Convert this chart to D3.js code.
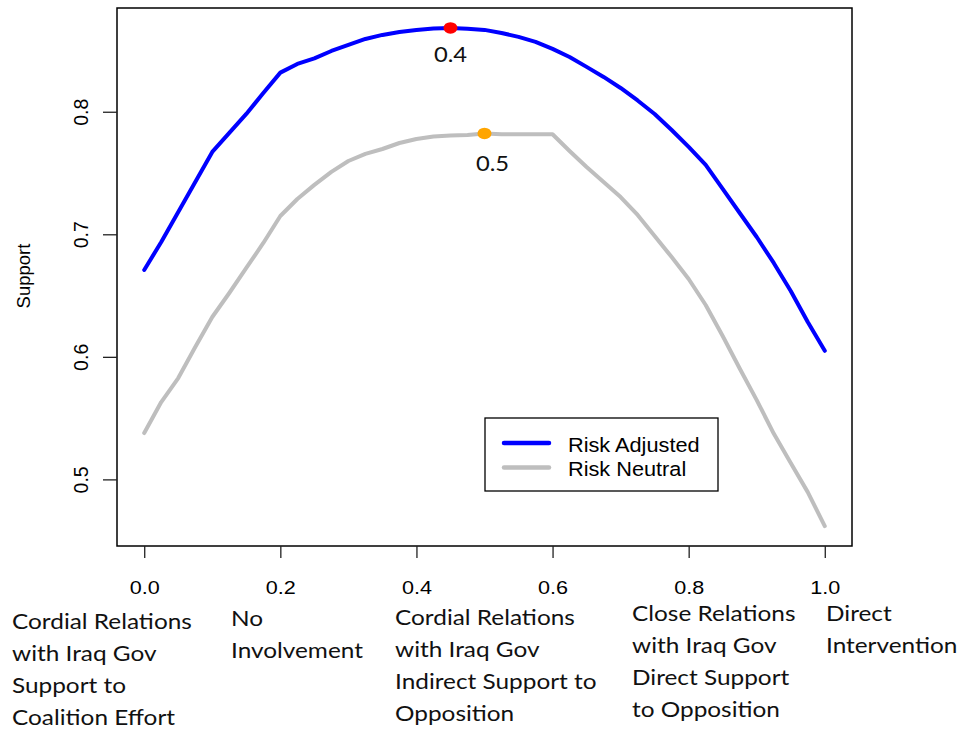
<!DOCTYPE html>
<html><head><meta charset="utf-8">
<script src="https://cdn.jsdelivr.net/npm/d3@7"></script>
<style>body{margin:0;background:#fff}</style></head>
<body>
<svg id="c" width="965" height="730"></svg>
<script>
// ---------------- DATA ----------------
const xValues = [0,0.025,0.05,0.075,0.1,0.125,0.15,0.175,0.2,0.225,0.25,0.275,0.3,0.325,0.35,0.375,0.4,0.425,0.45,0.475,0.5,
  0.525,0.55,0.575,0.6,0.625,0.65,0.675,0.7,0.725,0.75,0.775,0.8,0.825,0.85,0.875,0.9,0.925,0.95,0.975,1.0];
const riskAdjusted = [0.6709,0.6937,0.7182,0.7427,0.7672,0.7827,0.7982,0.8153,0.8319,0.8390,0.8435,0.8496,0.8545,0.8594,0.8627,0.8651,0.8667,0.8680,0.8684,0.8678,0.8668,
  0.8643,0.8611,0.8570,0.8513,0.8447,0.8366,0.8284,0.8194,0.8092,0.7982,0.7851,0.7713,0.7566,0.7370,0.7174,0.6978,0.6766,0.6537,0.6284,0.6049];
const riskNeutral = [0.5378,0.5631,0.5827,0.6080,0.6325,0.6521,0.6725,0.6929,0.7149,0.7288,0.7403,0.7509,0.7598,0.7656,0.7696,0.7745,0.7778,0.7798,0.7807,0.7811,0.7823,
  0.7816,0.7816,0.7816,0.7816,0.7680,0.7549,0.7427,0.7304,0.7158,0.6986,0.6814,0.6635,0.6423,0.6170,0.5905,0.5647,0.5374,0.5133,0.4896,0.4619];
const seriesNames = ["Risk Adjusted", "Risk Neutral"];
const seriesColors = ["#0000FF", "#BEBEBE"];
const optimaX = [0.45, 0.5];
const optimaY = [0.8684, 0.7823];
const optimaLabels = ["0.4", "0.5"];
const optimaColors = ["#FF0000", "#FFA500"];
const yTicks = [0.5, 0.6, 0.7, 0.8];
const xTicks = [0, 0.2, 0.4, 0.6, 0.8, 1.0];
const xTickLabels = ["0.0", "0.2", "0.4", "0.6", "0.8", "1.0"];
const yLabel = "Support";
const strategyLabels = [
  ["Cordial Relations", "with Iraq Gov", "Support to", "Coalition Effort"],
  ["No", "Involvement"],
  ["Cordial Relations", "with Iraq Gov", "Indirect Support to", "Opposition"],
  ["Close Relations", "with Iraq Gov", "Direct Support", "to Opposition"],
  ["Direct", "Intervention"]
];

// ---------------- LAYOUT ----------------
const svg = d3.select("#c");
const L = 117, R = 852, T = 8, B = 546;
const allY = riskAdjusted.concat(riskNeutral);
const yMin = d3.min(allY), yMax = d3.max(allY), yPad = (yMax - yMin) * 0.04;
const x = d3.scaleLinear().domain([-0.04, 1.04]).range([L, R]);
const y = d3.scaleLinear().domain([yMin - yPad, yMax + yPad]).range([B, T]);

const sans = "'Liberation Sans', Arial, Helvetica, sans-serif";
const humanist = "Lato, 'Open Sans', sans-serif";

// lines
const line = d3.line().x((d) => x(d[0])).y((d) => y(d[1]));
[1, 0].forEach((idx) => {
  const s = idx === 0 ? riskAdjusted : riskNeutral;
  svg.append("path")
    .datum(xValues.map((v, i) => [v, s[i]]))
    .attr("d", line)
    .attr("fill", "none")
    .attr("stroke", seriesColors[idx])
    .attr("stroke-width", 4)
    .attr("stroke-linejoin", "round")
    .attr("stroke-linecap", "round");
});

// optimum markers
optimaX.forEach((ox, i) => {
  svg.append("ellipse")
    .attr("cx", x(ox)).attr("cy", y(optimaY[i]))
    .attr("rx", 7).attr("ry", 5.8)
    .attr("fill", optimaColors[i]);
});
const annOffsets = [[0, 34.5], [8, 38]];
optimaX.forEach((ox, i) => {
  svg.append("text")
    .attr("transform", `translate(${x(ox) + annOffsets[i][0]},${y(optimaY[i]) + annOffsets[i][1]}) scale(1.08,1)`)
    .attr("text-anchor", "middle")
    .attr("font-family", humanist)
    .attr("font-size", 22)
    .attr("fill", "#111")
    .text(optimaLabels[i]);
});

// frame
svg.append("rect")
  .attr("x", L).attr("y", T).attr("width", R - L).attr("height", B - T)
  .attr("fill", "none").attr("stroke", "#000").attr("stroke-width", 1.5);

// y axis
const yAxis = svg.append("g").attr("transform", `translate(${L},0)`)
  .call(d3.axisLeft(y).tickValues(yTicks).tickSize(14).tickFormat(d3.format(".1f")));
yAxis.select(".domain").remove();
yAxis.selectAll(".tick line").attr("stroke", "#222").attr("stroke-width", 1.3);
yAxis.selectAll(".tick text")
  .attr("x", null).attr("dy", null)
  .attr("transform", "translate(-29,0) rotate(-90)")
  .attr("text-anchor", "middle")
  .attr("font-family", sans).attr("font-size", 19.5).attr("fill", "#000");

// x axis
const xAxis = svg.append("g").attr("transform", `translate(0,${B})`)
  .call(d3.axisBottom(x).tickValues(xTicks).tickSize(12).tickFormat((d, i) => xTickLabels[i]));
xAxis.select(".domain").remove();
xAxis.selectAll(".tick line").attr("stroke", "#222").attr("stroke-width", 1.3);
xAxis.selectAll(".tick text")
  .attr("y", null).attr("dy", null)
  .attr("transform", "translate(0,48.3) scale(1.2,1)")
  .attr("text-anchor", "middle")
  .attr("font-family", sans).attr("font-size", 18).attr("fill", "#000");

// y label
svg.append("text")
  .attr("transform", "translate(29.5,276) rotate(-90)")
  .attr("text-anchor", "middle")
  .attr("font-family", sans).attr("font-size", 18.5).attr("fill", "#000")
  .text(yLabel);

// legend
const lg = svg.append("g");
lg.append("rect").attr("x", 485).attr("y", 418).attr("width", 233).attr("height", 73)
  .attr("fill", "#fff").attr("stroke", "#000").attr("stroke-width", 1.3);
seriesNames.forEach((n, i) => {
  const ly = 443 + i * 24.5;
  lg.append("line").attr("x1", 504).attr("x2", 549).attr("y1", ly).attr("y2", ly)
    .attr("stroke", seriesColors[i]).attr("stroke-width", 4.5).attr("stroke-linecap", "round");
  lg.append("text")
    .attr("transform", `translate(568,${ly + 8.7}) scale(1.06,1)`)
    .attr("font-family", sans).attr("font-size", 20.5).attr("fill", "#000")
    .text(n);
});

// strategy labels under the axis
const blockPos = [[12, 629], [231, 626], [395, 625], [632, 620.7], [826, 620.7]];
const lineGap = 32;
// measure to emulate the narrow original face
const probe = svg.append("text").attr("font-family", humanist).attr("font-size", 21.5).text(strategyLabels[0][0]);
const w = probe.node().getComputedTextLength();
probe.remove();
const sx = w > 0 ? 180 / w : 1;
strategyLabels.forEach((lines, b) => {
  lines.forEach((t, j) => {
    svg.append("text")
      .attr("transform", `translate(${blockPos[b][0]},${blockPos[b][1] + j * lineGap}) scale(${sx},1)`)
      .attr("font-family", humanist).attr("font-size", 21.5).attr("fill", "#111")
      .text(t);
  });
});
</script>
</body></html>
